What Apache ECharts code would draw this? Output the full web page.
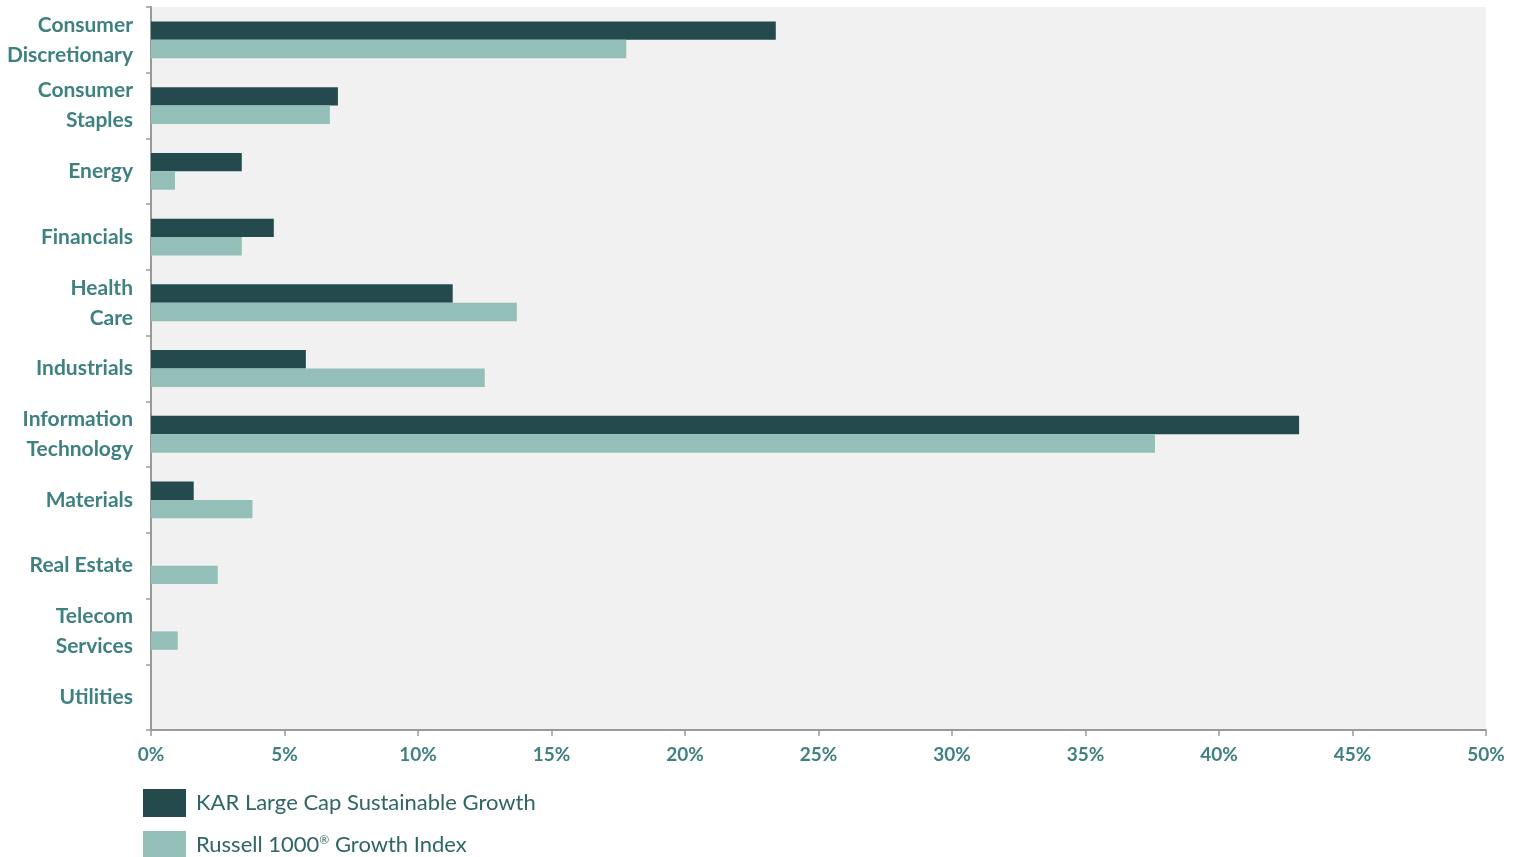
<!DOCTYPE html>
<html><head><meta charset="utf-8">
<script src="https://cdn.jsdelivr.net/npm/echarts@6/dist/echarts.min.js"></script>
<style>html,body{margin:0;padding:0;background:#fff}#c{width:1519px;height:857px}</style>
</head><body><div id="c"></div>
<script>
const categories = ["Consumer\nDiscretionary","Consumer\nStaples","Energy","Financials","Health\nCare","Industrials","Information\nTechnology","Materials","Real Estate","Telecom\nServices","Utilities"];
const kar = [23.4, 7.0, 3.4, 4.6, 11.3, 5.8, 43.0, 1.6, 0, 0, 0];
const russell = [17.8, 6.7, 0.9, 3.4, 13.7, 12.5, 37.6, 3.8, 2.5, 1.0, 0];
const seriesNames = ["KAR Large Cap Sustainable Growth", "Russell 1000® Growth Index"];
const xTicks = [0,5,10,15,20,25,30,35,40,45,50];

const chart = echarts.init(document.getElementById('c'));
const labelColor = '#3f8080';
const legendText = {color:'#2f6565',fontFamily:'Lato',fontSize:22,padding:[0,0,0,5],
  rich:{sup:{fontSize:12,verticalAlign:'top',color:'#2f6565',fontFamily:'Lato',padding:[0,0,8,0]}}};
const mkLegend = (name, top) => ({
  orient:'vertical', left:138, top:top, itemWidth:43, itemHeight:28, itemGap:10,
  icon:'rect', textStyle:legendText, formatter:n=>n.replace('®','{sup|®}'), data:[name]
});
chart.setOption({
  animation:false,
  grid:{left:151,right:33,top:7,bottom:127,show:true,backgroundColor:'#f1f1f1',borderWidth:0},
  legend:[mkLegend(seriesNames[0],784), mkLegend(seriesNames[1],826)],
  xAxis:{
    type:'value', min:xTicks[0], max:xTicks[xTicks.length-1], interval:5,
    axisLine:{show:true,lineStyle:{color:'#999',width:2}},
    axisTick:{show:true,length:6,lineStyle:{color:'#999',width:1.5}},
    splitLine:{show:false},
    axisLabel:{formatter:'{value}%',color:labelColor,fontFamily:'Lato',fontWeight:'bold',fontSize:19,margin:15}
  },
  yAxis:{
    type:'category', data:categories, inverse:true,
    axisLine:{show:true,lineStyle:{color:'#999',width:2}},
    axisTick:{show:true,length:5,lineStyle:{color:'#999',width:1.5}},
    axisLabel:{color:labelColor,fontFamily:'Lato',fontWeight:'bold',fontSize:21,lineHeight:30,margin:18,align:'right'}
  },
  series:[
    {name:seriesNames[0],type:'bar',data:kar,barGap:'0%',barCategoryGap:'44%',itemStyle:{color:'#244a4e'}},
    {name:seriesNames[1],type:'bar',data:russell,itemStyle:{color:'#93bfb8'}}
  ]
});
</script></body></html>
